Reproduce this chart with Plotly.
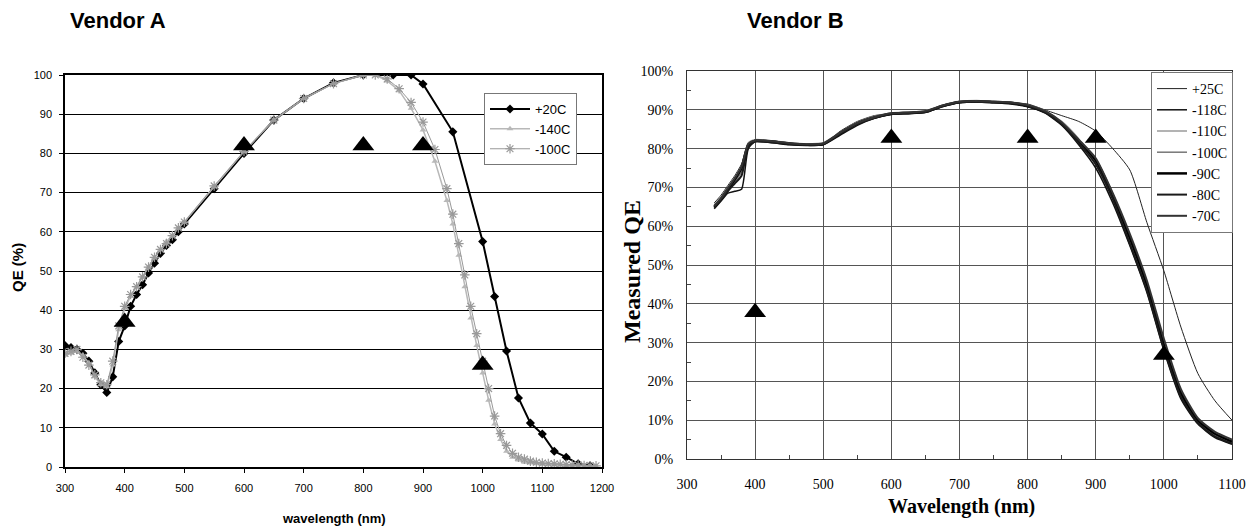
import plotly.graph_objects as go

W, H = 1254, 532

# ---------------- Vendor A data ----------------
wl_a20 = [300,310,320,330,340,350,360,370,380,390,400,410,420,430,440,450,460,470,480,490,500,
          550,600,650,700,750,800,850,880,900,950,1000,1020,1040,1060,1080,1100,1120,1140,1160,1180]
qe_a20 = [31,30.5,30,29,27,24,21,19,23,32,36,41,44,46.5,49.5,52,54.5,56.5,58,60,62,
          71,80,88.5,94,98,100,100,100,97.7,85.5,57.5,43.5,29.6,17.6,11.2,8.4,4,2.5,0.8,0.3]

wl_cold = [300,310,320,330,340,350,360,370,380,390,400,410,420,430,440,450,460,470,480,490,500,
           550,600,650,700,750,800,820,840,860,880,900,920,940,950,960,970,980,990,1000,1010,1020,
           1030,1040,1050,1060,1070,1080,1090,1100,1110,1120,1130,1140,1150,1160,1170,1180,1190]
qe_a140 = [28.5,29,29.5,28.5,26.5,23,21,20.5,26,35,40.5,43.5,46,48.5,51,53.5,55.5,57.5,59,61,62.5,
           71.5,80.5,88.5,94,97.8,100,100,98.5,96,91.5,86,78,68,62,54,46,38,31,24,17,11,
           7,4,2.5,1.8,1.2,1,0.8,0.7,0.6,0.5,0.5,0.4,0.4,0.3,0.3,0.2,0.2]
qe_a100 = [29,29.5,30,28,26,23.5,21.5,21,27,36,41,44,46,48.5,51,53.5,55.5,57,59,61,62.5,
           71.7,80.5,88.5,94,97.8,100,100,99,96.5,93,88,81,71,64.5,57,49,41,34,27,20,13,
           8.5,5.5,3.5,2.5,2,1.5,1.2,1,0.9,0.8,0.7,0.6,0.5,0.5,0.4,0.3,0.3]

tri_a_x = [400,600,800,900,1000]
tri_a_y = [37,82,82,82,26]

# ---------------- Vendor B data ----------------
wl_b = [340,350,360,370,380,390,400,425,450,475,500,525,550,575,600,625,650,675,700,725,750,775,
        800,825,850,875,900,925,950,975,1000,1025,1050,1075,1100]
qe_b25 = [66,68,70.5,73,76,81,82,81.8,81.3,81,81.2,84.5,87,88.5,89,89,89.5,91,92,92.2,92,91.8,
          91.5,90,88.5,87,84.5,80,74.5,61,48.5,34,22,15,10]
qe_b118 = [64.5,66.5,68.5,69,69.5,80,81.8,81.5,81,80.8,81,83.5,86,87.8,88.8,89,89.3,90.8,91.8,92,91.8,91.5,
           90.8,89.2,86,81,75,66,55,43,28,15.5,9,5.5,3.8]
qe_b110 = [65.5,67.5,70,72.5,75.5,81.5,82.3,82,81.5,81.2,81.5,84.2,86.8,88.3,89.2,89.4,89.7,91.2,92.2,92.4,92.2,92,
           91.2,89.8,87,82.5,76.5,67.5,56.5,44.5,29.5,17,10,6,4.3]
qe_b100 = [65,67,69.5,71.5,74,81,82,81.8,81.3,81,81.2,84,86.5,88,89,89.2,89.5,91,92,92.2,92,91.8,
           91,89.5,86.5,82,76,67,56,44,29,16.5,9.5,6,4.2]
qe_b90 = [65,67,69.5,72,75,81,82,81.8,81.3,81,81.2,84,86.5,88,89,89.2,89.5,91,92,92.2,92,91.8,
          91,89.5,86.5,82,77,68,57,45,29.5,17,10,6.5,4.5]
qe_b80 = [64.8,66.8,69,71,73,80.5,81.8,81.6,81.1,80.9,81.1,83.8,86.3,87.9,88.9,89.1,89.4,90.9,91.9,92.1,91.9,91.7,
          91,89.4,86.3,81.5,76,67,55.5,43.5,28.5,16,9.3,5.8,4]
qe_b70 = [65.2,67.2,69.8,72.3,75.3,81.2,82.1,81.9,81.4,81.1,81.3,84.1,86.6,88.1,89.1,89.3,89.6,91.1,92.1,92.3,92.1,91.9,
          91.2,89.7,86.8,82.3,77.5,68.5,58,46,31,18,10.5,7,5]

tri_b_x = [400,600,800,900,1000]
tri_b_y = [37.8,82.7,82.7,82.7,26.8]

fig = go.Figure()

# Vendor A traces
fig.add_trace(go.Scatter(x=wl_a20, y=qe_a20, name="+20C", mode="lines+markers",
                         line=dict(color="black", width=2),
                         marker=dict(symbol="diamond", size=7, color="black"),
                         xaxis="x", yaxis="y", legend="legend"))
fig.add_trace(go.Scatter(x=wl_cold, y=qe_a140, name="-140C", mode="lines+markers",
                         line=dict(color="#b8b8b8", width=1.5),
                         marker=dict(symbol="triangle-up", size=6, color="#b8b8b8"),
                         xaxis="x", yaxis="y", legend="legend"))
fig.add_trace(go.Scatter(x=wl_cold, y=qe_a100, name="-100C", mode="lines+markers",
                         line=dict(color="#999999", width=1),
                         marker=dict(symbol="asterisk-open", size=8, color="#999999",
                                     line=dict(color="#999999", width=1.2)),
                         xaxis="x", yaxis="y", legend="legend"))
fig.add_trace(go.Scatter(x=tri_a_x, y=tri_a_y, mode="markers", showlegend=False,
                         marker=dict(symbol="triangle-up", size=19, color="black"),
                         xaxis="x", yaxis="y"))

# Vendor B traces
b_series = [
    ("+25C", qe_b25, "#222222", 1.0),
    ("-118C", qe_b118, "#111111", 1.5),
    ("-110C", qe_b110, "#9a9a9a", 1.5),
    ("-100C", qe_b100, "#777777", 1.5),
    ("-90C", qe_b90, "#000000", 2.5),
    ("-80C", qe_b80, "#1a1a1a", 2.0),
    ("-70C", qe_b70, "#333333", 2.0),
]
for name, ys, col, w in b_series:
    fig.add_trace(go.Scatter(x=wl_b, y=ys, name=name, mode="lines",
                             line=dict(color=col, width=w, shape="spline", smoothing=0.6),
                             xaxis="x2", yaxis="y2", legend="legend2"))
fig.add_trace(go.Scatter(x=tri_b_x, y=tri_b_y, mode="markers", showlegend=False,
                         marker=dict(symbol="triangle-up", size=19, color="black"),
                         xaxis="x2", yaxis="y2"))

sans = "Arial, Liberation Sans, sans-serif"
serif = "Times New Roman, Liberation Serif, serif"

def px(x):
    return x / W

def py(y):
    return 1 - y / H

fig.update_layout(
    width=W, height=H, margin=dict(l=0, r=0, t=0, b=0, autoexpand=False),
    paper_bgcolor="white", plot_bgcolor="white",
    xaxis=dict(domain=[px(65), px(602)], range=[300, 1200], dtick=100, tick0=300,
               showgrid=False, zeroline=False, showline=True, linecolor="black", linewidth=1.5,
               mirror=True, ticks="outside", ticklen=4, tickcolor="black", automargin=False,
               ticklabelstandoff=6,
               tickfont=dict(family=sans, size=11, color="black"), anchor="y"),
    yaxis=dict(domain=[py(467), py(75)], range=[0, 100], dtick=10,
               showgrid=True, gridcolor="black", gridwidth=1, zeroline=False,
               showline=True, linecolor="black", linewidth=1.5, mirror=True,
               ticks="outside", ticklen=4, tickcolor="black", automargin=False,
               ticklabelstandoff=5,
               tickfont=dict(family=sans, size=11, color="black"), anchor="x"),
    xaxis2=dict(domain=[px(687), px(1232)], range=[300, 1100], dtick=100, tick0=300,
                showgrid=True, gridcolor="#555555", gridwidth=1, zeroline=False,
                showline=True, linecolor="#333333", linewidth=1, mirror=True,
                ticks="", minor=dict(dtick=50, ticks="inside", ticklen=4, tickcolor="#444"),
                automargin=False, ticklabelstandoff=12,
                tickfont=dict(family=serif, size=14, color="black"), anchor="y2"),
    yaxis2=dict(domain=[py(459), py(71)], range=[0, 100], dtick=10, ticksuffix="%",
                showgrid=True, gridcolor="#555555", gridwidth=1, zeroline=False,
                showline=True, linecolor="#333333", linewidth=1, mirror=True,
                ticks="", minor=dict(dtick=5, ticks="inside", ticklen=4, tickcolor="#444"),
                automargin=False, ticklabelstandoff=10,
                tickfont=dict(family=serif, size=14, color="black"), anchor="x2"),
    legend=dict(x=px(484), y=py(93), xanchor="left", yanchor="top",
                bgcolor="white", bordercolor="#777", borderwidth=1,
                font=dict(family=sans, size=13, color="black"),
                itemwidth=40, tracegroupgap=0),
    legend2=dict(x=px(1151), y=py(72), xanchor="left", yanchor="top",
                 bgcolor="white", bordercolor="#777", borderwidth=1,
                 font=dict(family=serif, size=14, color="black"),
                 itemwidth=30, tracegroupgap=0),
    annotations=[
        dict(text="<b>Vendor A</b>", x=px(68), y=py(20), xref="paper", yref="paper",
             xanchor="left", yanchor="middle", showarrow=False,
             font=dict(family=sans, size=22, color="black")),
        dict(text="<b>Vendor B</b>", x=px(745), y=py(20), xref="paper", yref="paper",
             xanchor="left", yanchor="middle", showarrow=False,
             font=dict(family=sans, size=22, color="black")),
        dict(text="<b>QE (%)</b>", x=px(17), y=py(268), xref="paper", yref="paper",
             xanchor="center", yanchor="middle", showarrow=False, textangle=-90,
             font=dict(family=sans, size=15, color="black")),
        dict(text="<b>wavelength (nm)</b>", x=px(334), y=py(518), xref="paper", yref="paper",
             xanchor="center", yanchor="middle", showarrow=False,
             font=dict(family=sans, size=13, color="black")),
        dict(text="<b>Measured QE</b>", x=px(632), y=py(272), xref="paper", yref="paper",
             xanchor="center", yanchor="middle", showarrow=False, textangle=-90,
             font=dict(family=serif, size=24, color="black")),
        dict(text="<b>Wavelength (nm)</b>", x=px(961), y=py(506), xref="paper", yref="paper",
             xanchor="center", yanchor="middle", showarrow=False,
             font=dict(family=serif, size=20, color="black")),
    ],
)

fig.write_html("out.html")
